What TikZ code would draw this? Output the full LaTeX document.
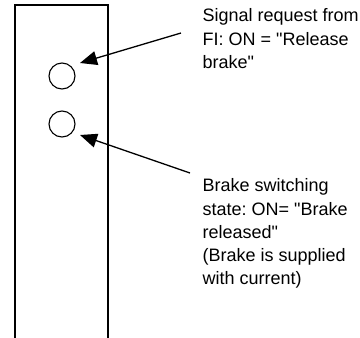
\documentclass[tikz,border=0pt]{standalone}
\usepackage{fontspec}
\setmainfont{Liberation Sans}[Ligatures=TeXOff]
\usetikzlibrary{arrows.meta}
\frenchspacing
\begin{document}
\begin{tikzpicture}[x=1pt,y=1pt,
  frame/.style={line width=1.4pt},
  port/.style={circle,draw,line width=1.1pt,minimum size=26pt,inner sep=0pt},
  pointer/.style={line width=1.3pt,-{Triangle[length=17pt,width=14pt]}},
  label/.style={anchor=north west,inner sep=0pt,align=left,
    font=\fontsize{18}{23.3}\selectfont\frenchspacing}]
\useasboundingbox (0,0) rectangle (360,-338);
\draw[frame] (15,-340) -- (15,-5) -- (108,-5) -- (108,-340);
\node[port] (c1) at (62,-76) {};
\node[port] (c2) at (62,-124) {};
\node[label] (t1) at (202.5,-8.5) {Signal request from\\FI: ON = "Release\\brake"};
\node[label] (t2) at (202.5,-178.5) {Brake switching\\state: ON= "Brake\\released"\\(Brake is supplied\\with current)};
\coordinate (s1) at (181,-33);
\coordinate (e1) at (80,-63);
\coordinate (s2) at (190,-173);
\coordinate (e2) at (80,-135);
\draw[pointer] (s1) -- (e1);
\draw[pointer] (s2) -- (e2);
\end{tikzpicture}
\end{document}
